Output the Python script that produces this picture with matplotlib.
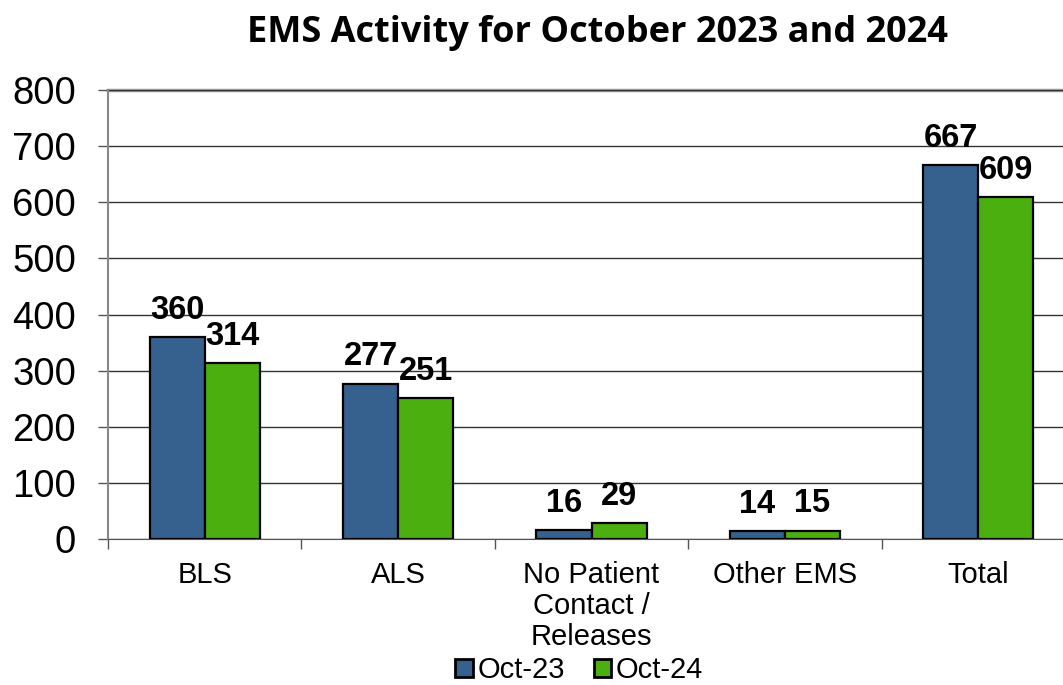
import numpy as np
import matplotlib.pyplot as plt

categories = ["BLS", "ALS", "No Patient\nContact /\nReleases", "Other EMS", "Total"]
oct23 = [360, 277, 16, 14, 667]
oct24 = [314, 251, 29, 15, 609]
series_names = ["Oct-23", "Oct-24"]

blue = "#36618F"
green = "#4CAF10"

plt.rcParams['font.family'] = ['Liberation Sans', 'DejaVu Sans']

fig = plt.figure(figsize=(10.63, 6.85), dpi=100)
ax = fig.add_axes([0.1016, 0.2131, 0.9097, 0.6555])

x = np.arange(len(categories))
w = 0.285
b1 = ax.bar(x - w/2, oct23, w, color=blue, edgecolor="black", linewidth=1.6, label=series_names[0], zorder=3)
b2 = ax.bar(x + w/2, oct24, w, color=green, edgecolor="black", linewidth=1.6, label=series_names[1], zorder=3)

for bars in (b1, b2):
    for r in bars:
        ax.annotate(f"{int(r.get_height())}", (r.get_x() + r.get_width()/2, r.get_height()),
                    xytext=(0, 8), textcoords="offset points", ha="center", va="bottom",
                    fontsize=23.5, fontweight="bold", zorder=4)

ax.set_xlim(-0.5, len(categories) - 0.5)
ax.set_ylim(0, 800)
ax.set_yticks(np.arange(0, 801, 100))
ax.tick_params(axis="y", labelsize=27.5, length=7, width=1, color="#555555", pad=16)
ax.yaxis.grid(True, color="#333333", linewidth=1, zorder=0)

ax.set_xticks(np.arange(-0.5, len(categories), 1))
ax.set_xticklabels([])
ax.set_xticks(x, minor=True)
ax.set_xticklabels(categories, minor=True, fontsize=21, linespacing=1.12)
ax.tick_params(axis="x", which="major", length=7, width=1, color="#555555")
ax.tick_params(axis="x", which="minor", length=0, pad=16)

for s in ["top", "right"]:
    ax.spines[s].set_visible(False)
ax.spines["left"].set_color("#888888")
ax.spines["left"].set_linewidth(1.5)
ax.spines["bottom"].set_color("#555555")
ax.axhline(800, color="#999999", linewidth=2.5, zorder=1, clip_on=False)

fig.suptitle("EMS Activity for October 2023 and 2024", x=0.562, y=0.978,
             fontsize=26, fontweight="bold", family=["Open Sans", "DejaVu Sans"])

leg = fig.legend(loc="lower center", bbox_to_anchor=(0.545, -0.037), ncol=2, fontsize=21,
                 frameon=False, handlelength=0.6, handleheight=0.6, handletextpad=0.15,
                 columnspacing=1.0)
for h in leg.legend_handles:
    h.set_linewidth(2)

fig.savefig("out.png", dpi=100)
